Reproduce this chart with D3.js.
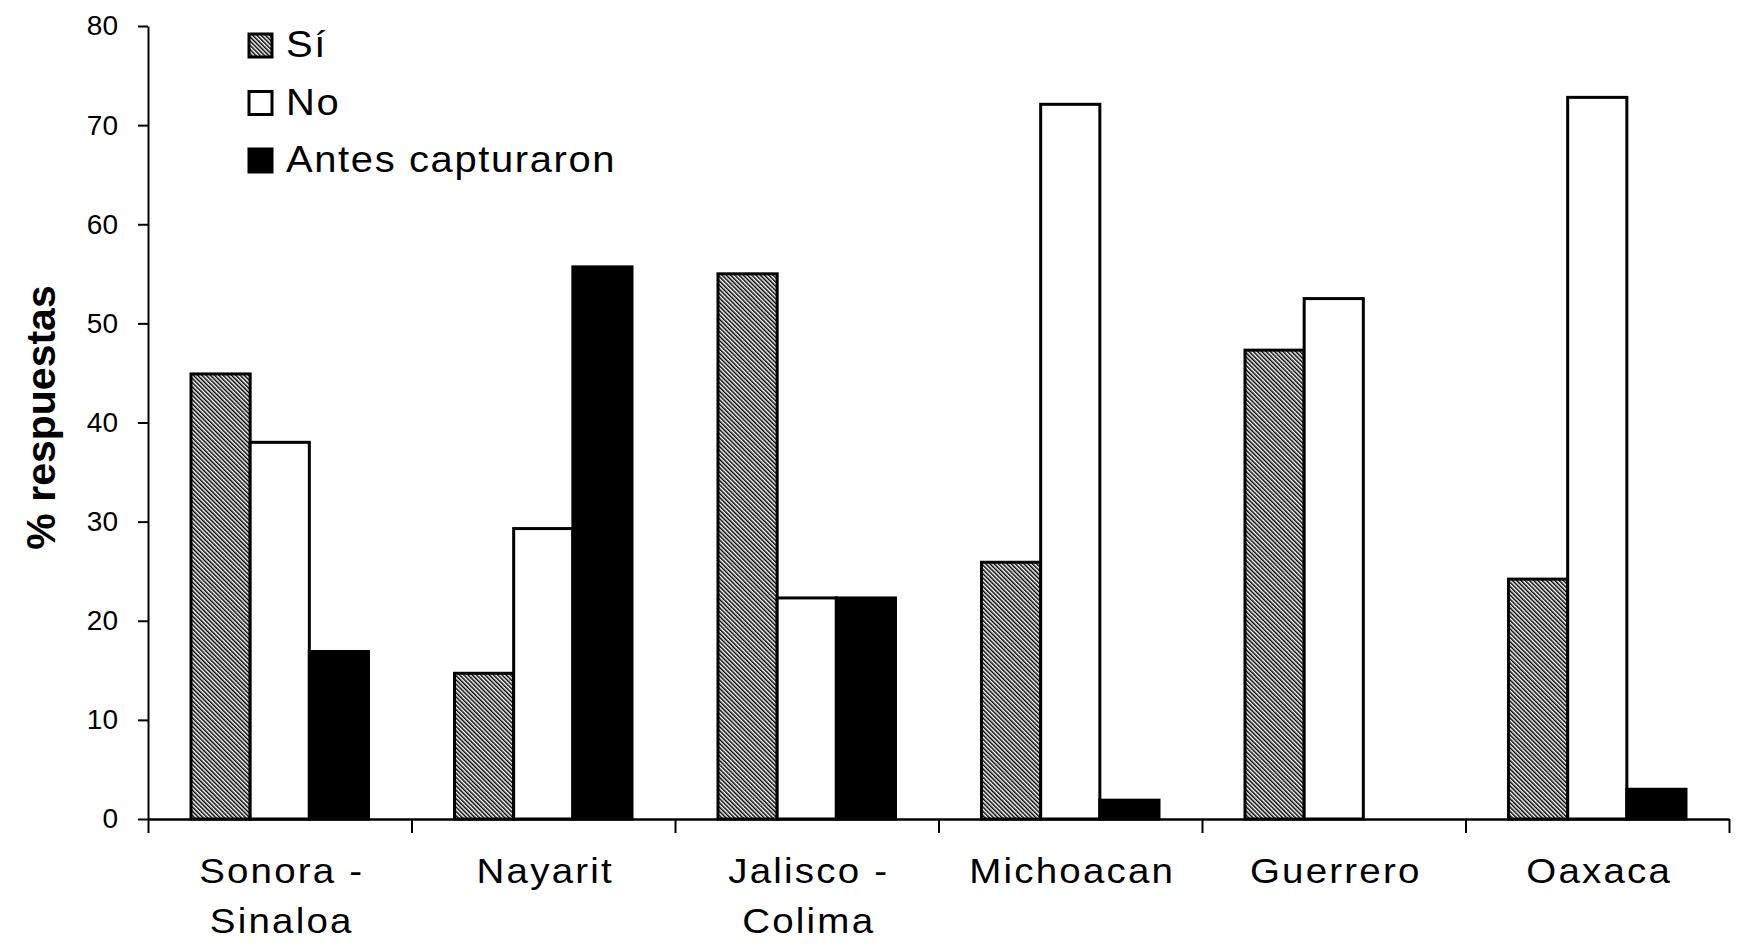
<!DOCTYPE html>
<html>
<head>
<meta charset="utf-8">
<script src="https://cdn.jsdelivr.net/npm/d3@7"></script>
<style>
  html, body { margin: 0; padding: 0; background: #fff; }
  svg { display: block; }
</style>
</head>
<body>
<svg id="chart" width="1742" height="947"></svg>
<script>
// ---- data ----
const categories = ["Sonora -\nSinaloa", "Nayarit", "Jalisco -\nColima", "Michoacan", "Guerrero", "Oaxaca"];
const seriesNames = ["Sí", "No", "Antes capturaron"];
const si    = [44.9, 14.7, 55.0, 25.9, 47.3, 24.2];
const no    = [38.0, 29.3, 22.3, 72.1, 52.5, 72.8];
const antes = [16.9, 55.7, 22.3, 1.9, 0, 3.0];
const yTicks = [0, 10, 20, 30, 40, 50, 60, 70, 80];
const yTitle = "% respuestas";

const seriesValues = [si, no, antes];
const fills = ["url(#hatch)", "#fff", "#000"];

// ---- layout ----
const svg = d3.select("#chart");
const mLeft = 148, mRight = 1729, mTop = 26, mBottom = 819;

const defs = svg.append("defs");
const pat = defs.append("pattern")
  .attr("id", "hatch")
  .attr("patternUnits", "userSpaceOnUse")
  .attr("width", 3).attr("height", 10)
  .attr("patternTransform", "rotate(-45)");
pat.append("rect").attr("width", 3).attr("height", 10).attr("fill", "#fff");
pat.append("rect").attr("width", 1.5).attr("height", 10).attr("fill", "#000");

const x0 = d3.scaleBand().domain(d3.range(categories.length)).range([mLeft, mRight]).padding(0);
const groupPad = 43;
const x1 = d3.scaleBand().domain(d3.range(seriesNames.length))
  .range([groupPad, x0.bandwidth() - groupPad]).padding(0);
const y = d3.scaleLinear().domain([0, 80]).range([mBottom, mTop]);

// bars
const groups = svg.append("g").selectAll("g")
  .data(categories)
  .join("g")
  .attr("transform", (d, i) => `translate(${x0(i)},0)`);

groups.selectAll("rect")
  .data((d, i) => seriesValues.map((s, k) => ({ k, v: s[i] })).filter(o => o.v > 0))
  .join("rect")
  .attr("x", d => x1(d.k))
  .attr("width", x1.bandwidth())
  .attr("y", d => y(d.v))
  .attr("height", d => y(0) - y(d.v))
  .attr("fill", d => fills[d.k])
  .attr("stroke", "#000")
  .attr("stroke-width", 3);

// y axis
const yAxis = svg.append("g")
  .attr("transform", `translate(${mLeft},0)`)
  .call(d3.axisLeft(y).tickValues(yTicks).tickSize(10).tickSizeOuter(0).tickPadding(20));
yAxis.select(".domain").attr("stroke", "#000").attr("stroke-width", 2);
yAxis.selectAll(".tick line").attr("stroke", "#000").attr("stroke-width", 2);
yAxis.selectAll(".tick text")
  .attr("font-family", "'Liberation Sans', Arial, sans-serif")
  .attr("font-size", 28)
  .attr("fill", "#000");

// x axis (ticks at category boundaries)
const xb = d3.scaleLinear().domain([0, categories.length]).range([mLeft, mRight]);
const xAxis = svg.append("g")
  .attr("transform", `translate(0,${mBottom})`)
  .call(d3.axisBottom(xb).tickValues(d3.range(categories.length + 1)).tickFormat("").tickSize(14).tickSizeOuter(0));
xAxis.select(".domain").attr("stroke", "#000").attr("stroke-width", 2.5);
xAxis.selectAll(".tick line").attr("stroke", "#000").attr("stroke-width", 2);

// category labels
const labels = svg.append("g")
  .attr("font-family", "'Liberation Sans', Arial, sans-serif")
  .attr("font-size", 35)
  .attr("letter-spacing", "2px")
  .attr("fill", "#000");
categories.forEach((c, i) => {
  const t = labels.append("text")
    .attr("text-anchor", "middle")
    .attr("transform", `translate(${x0(i) + x0.bandwidth() / 2 + 2},0) scale(1.1,1)`);
  c.split("\n").forEach((line, j) => {
    t.append("tspan").attr("x", 0).attr("y", 883 + j * 50).text(line);
  });
});

// y title
svg.append("text")
  .attr("transform", `translate(55,${(mTop + mBottom) / 2 - 5}) rotate(-90)`)
  .attr("text-anchor", "middle")
  .attr("font-family", "'Liberation Sans', Arial, sans-serif")
  .attr("font-weight", "bold")
  .attr("font-size", 41)
  .attr("fill", "#000")
  .text(yTitle);

// legend
const legend = svg.append("g");
const legY = d3.scalePoint().domain(seriesNames).range([57, 172]);
seriesNames.forEach((name, k) => {
  const by = legY(name);
  legend.append("rect")
    .attr("x", 249).attr("y", by - 23)
    .attr("width", 23).attr("height", 23)
    .attr("fill", fills[k])
    .attr("stroke", "#000").attr("stroke-width", 3);
  legend.append("text")
    .attr("transform", `translate(286,${by}) scale(1.08,1)`)
    .attr("font-family", "'Liberation Sans', Arial, sans-serif")
    .attr("font-size", 37)
    .attr("letter-spacing", "1.5px")
    .attr("fill", "#000")
    .text(name);
});
</script>
</body>
</html>
